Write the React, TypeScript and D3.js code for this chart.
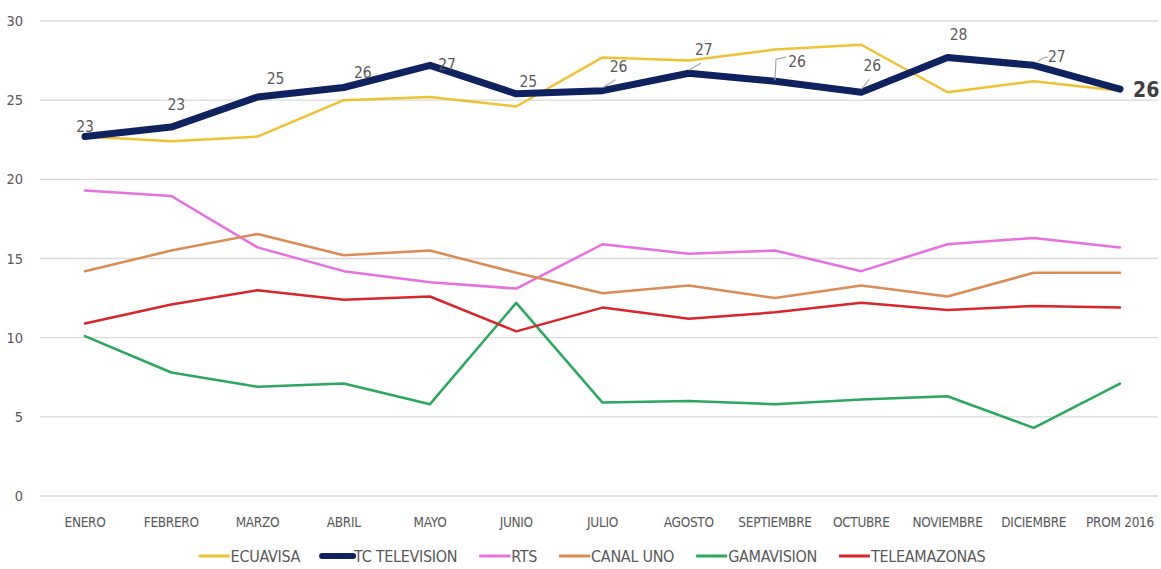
import { useEffect, useRef } from 'react'
import * as d3 from 'd3'

const W = 1161, H = 569
const MONTHS = ['ENERO', 'FEBRERO', 'MARZO', 'ABRIL', 'MAYO', 'JUNIO', 'JULIO', 'AGOSTO', 'SEPTIEMBRE', 'OCTUBRE', 'NOVIEMBRE', 'DICIEMBRE', 'PROM 2016']
const Y_TICKS = [0, 5, 10, 15, 20, 25, 30]

const ECUAVISA = [22.7, 22.4, 22.7, 25.0, 25.2, 24.6, 27.7, 27.5, 28.2, 28.5, 25.5, 26.2, 25.6]
const TC_TELEVISION = [22.7, 23.3, 25.2, 25.8, 27.2, 25.4, 25.6, 26.7, 26.2, 25.5, 27.7, 27.2, 25.7]
const RTS = [19.3, 18.95, 15.7, 14.2, 13.5, 13.1, 15.9, 15.3, 15.5, 14.2, 15.9, 16.3, 15.7]
const CANAL_UNO = [14.2, 15.5, 16.55, 15.2, 15.5, 14.1, 12.8, 13.3, 12.5, 13.3, 12.6, 14.1, 14.1]
const GAMAVISION = [10.1, 7.8, 6.9, 7.1, 5.8, 12.2, 5.9, 6.0, 5.8, 6.1, 6.3, 4.3, 7.1]
const TELEAMAZONAS = [10.9, 12.1, 13.0, 12.4, 12.6, 10.4, 11.9, 11.2, 11.6, 12.2, 11.75, 12.0, 11.9]
const TC_LABELS = ['23', '23', '25', '26', '27', '25', '26', '27', '26', '26', '28', '27', '26']

const SERIES = [
  { name: 'ECUAVISA', values: ECUAVISA, color: '#efc234', width: 2.5 },
  { name: 'RTS', values: RTS, color: '#e96ee2', width: 2.5 },
  { name: 'CANAL UNO', values: CANAL_UNO, color: '#dc8b52', width: 2.5 },
  { name: 'GAMAVISION', values: GAMAVISION, color: '#2aa85d', width: 2.5 },
  { name: 'TELEAMAZONAS', values: TELEAMAZONAS, color: '#d8262b', width: 2.5 },
  { name: 'TC TELEVISION', values: TC_TELEVISION, color: '#0f2260', width: 7 },
]
const LEGEND_ORDER = ['ECUAVISA', 'TC TELEVISION', 'RTS', 'CANAL UNO', 'GAMAVISION', 'TELEAMAZONAS']

// label offsets from the point (dx to text centre, dy to baseline) and leader style
type Leader = '' | 'below' | 'left' | 'bracket'
const LABEL_POS: [number, number, Leader][] = [
  [0, -5, ''], [5, -17, ''], [18, -13, ''], [19, -10, ''], [17, 5, ''], [12, -7, ''],
  [16, -19, 'below'], [15, -18, 'below'], [22, -14, 'bracket'], [11, -21, 'below'], [11, -17, ''], [23, -3, 'left'], [0, 0, ''],
]

const FONT = '"Liberation Sans Narrow", "DejaVu Sans Condensed", "Liberation Sans", sans-serif'
const GREY = '#595959'

export default function App() {
  const svgRef = useRef<SVGSVGElement>(null)

  useEffect(() => {
    const svg = d3.select(svgRef.current)
    svg.selectAll('*').remove()

    const x = d3.scalePoint<string>().domain(MONTHS).range([85, 1120])
    const y = d3.scaleLinear().domain([0, 30]).range([496, 21])

    // grid
    svg.append('g').selectAll('line').data(Y_TICKS).join('line')
      .attr('x1', 40).attr('x2', 1158)
      .attr('y1', (d) => y(d)).attr('y2', (d) => y(d))
      .attr('stroke', '#d9d9d9').attr('stroke-width', 1.3)

    svg.append('g').selectAll('text').data(Y_TICKS).join('text')
      .attr('x', 23).attr('y', (d) => y(d) + 5)
      .attr('text-anchor', 'end')
      .attr('font-family', FONT).attr('font-size', 14.5).attr('fill', GREY)
      .text((d) => d)

    svg.append('g').selectAll('text').data(MONTHS).join('text')
      .attr('x', (d) => x(d)!).attr('y', 527)
      .attr('text-anchor', 'middle')
      .attr('font-family', FONT).attr('font-size', 13.5).attr('fill', GREY)
      .attr('letter-spacing', -0.3)
      .text((d) => d)

    const line = d3.line<number>().x((_, i) => x(MONTHS[i])!).y((d) => y(d))

    SERIES.forEach((s) => {
      svg.append('path').datum(s.values)
        .attr('d', line)
        .attr('fill', 'none')
        .attr('stroke', s.color).attr('stroke-width', s.width)
        .attr('stroke-linejoin', 'round').attr('stroke-linecap', 'round')
    })

    // TC TELEVISION data labels
    TC_TELEVISION.forEach((v, i) => {
      const px = x(MONTHS[i])!, py = y(v)
      const [dx, dy, leader] = LABEL_POS[i]
      if (i === MONTHS.length - 1) {
        svg.append('text').attr('x', px + 13).attr('y', py + 8)
          .attr('font-family', FONT).attr('font-size', 21).attr('font-weight', 'bold')
          .attr('fill', '#404040').text(TC_LABELS[i])
        return
      }
      const cx = px + dx, by = py + dy
      let pts = ''
      if (leader === 'below') pts = `${px},${py - 3} ${cx - 3},${by + 8}`
      if (leader === 'left') pts = `${px + 4},${py - 4} ${cx - 12},${by - 5} ${cx - 9},${by - 5}`
      if (leader === 'bracket') pts = `${px},${py - 1} ${px + 1},${by - 8} ${cx - 11},${by - 10}`
      if (pts) {
        svg.append('polyline').attr('points', pts)
          .attr('fill', 'none').attr('stroke', '#a6a6a6').attr('stroke-width', 1.2)
      }
      svg.append('text').attr('x', cx).attr('y', by)
        .attr('text-anchor', 'middle')
        .attr('font-family', FONT).attr('font-size', 15.5).attr('fill', GREY)
        .text(TC_LABELS[i])
    })

    // legend
    const lg = svg.append('g')
    let lx = 0
    LEGEND_ORDER.forEach((name) => {
      const s = SERIES.find((d) => d.name === name)!
      const g = lg.append('g').attr('transform', `translate(${lx},0)`)
      g.append('line').attr('x1', 0).attr('x2', 31).attr('y1', 0).attr('y2', 0)
        .attr('stroke', s.color).attr('stroke-width', s.width === 7 ? 6 : 3)
        .attr('stroke-linecap', s.width === 7 ? 'round' : 'butt')
      const t = g.append('text').attr('x', 32).attr('y', 5.5)
        .attr('font-family', FONT).attr('font-size', 16).attr('fill', GREY)
        .attr('letter-spacing', -0.3)
        .text(name)
      const w = (t.node() as SVGTextElement).getComputedTextLength()
      lx += 32 + w + 22
    })
    const total = lx - 22
    lg.attr('transform', `translate(${592 - total / 2},556)`)
  }, [])

  return (
    <svg ref={svgRef} width={W} height={H}
      style={{ position: 'absolute', left: 0, top: 0, background: '#fff', display: 'block' }} />
  )
}
